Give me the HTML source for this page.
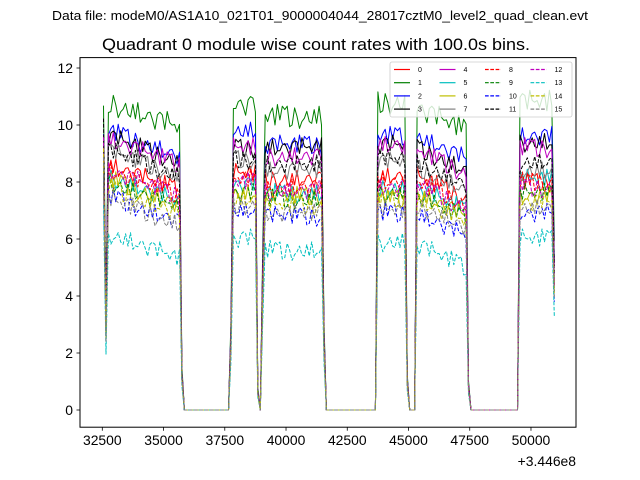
<!DOCTYPE html>
<html><head><meta charset="utf-8"><style>
html,body{margin:0;padding:0;background:#fff}
svg{display:block;font-family:"Liberation Sans",sans-serif}
</style></head><body>
<svg id="chart" width="640" height="480" viewBox="0 0 640 480">
<rect x="0" y="0" width="640" height="480" fill="#fff"/>
<text x="320" y="20" font-size="12.5" text-anchor="middle" textLength="536" lengthAdjust="spacingAndGlyphs">Data file: modeM0/AS1A10_021T01_9000004044_28017cztM0_level2_quad_clean.evt</text>
<text x="316" y="50" font-size="16.5" text-anchor="middle" textLength="428" lengthAdjust="spacingAndGlyphs">Quadrant 0 module wise count rates with 100.0s bins.</text>
<g id="plot"></g>
<rect x="80" y="57.6" width="496" height="369.6" fill="none" stroke="#000" stroke-width="1"/>
<g id="xticks"></g>
<g id="yticks"></g>
<text x="576" y="466" font-size="13.9" text-anchor="end">+3.446e8</text>
<g id="legend"></g>
</svg>
<script>
// ---- data ----
const t0 = 32550, binSize = 100, nBins = 185;
const seriesNames = ["0","1","2","3","4","5","6","7","8","9","10","11","12","13","14","15"];
// on-segment levels per series: [A, B, C, D, E, F]
const lv0  = [8.0, 8.3, 8.1, 8.2, 7.9, 8.0];
const lv1  = [10.2, 10.7, 10.3, 10.8, 10.3, 10.8];
const lv2  = [9.2, 9.8, 9.3, 9.6, 9.3, 9.6];
const lv3  = [9.0, 9.2, 9.2, 9.3, 8.9, 9.4];
const lv4  = [8.9, 9.2, 8.9, 9.3, 8.8, 9.2];
const lv5  = [7.6, 7.9, 7.6, 7.8, 7.5, 8.1];
const lv6  = [7.5, 7.6, 7.5, 7.4, 7.3, 7.5];
const lv7  = [8.5, 8.8, 8.4, 8.7, 8.2, 8.4];
const lv8  = [7.8, 8.1, 7.8, 8.0, 7.7, 8.0];
const lv9  = [7.4, 7.6, 7.4, 7.6, 7.2, 7.6];
const lv10 = [6.9, 7.0, 6.8, 6.9, 6.6, 6.9];
const lv11 = [8.5, 8.8, 8.6, 8.8, 8.4, 8.7];
const lv12 = [7.8, 8.0, 7.7, 7.8, 7.6, 7.8];
const lv13 = [5.6, 6.0, 5.6, 5.9, 5.5, 6.0];
const lv14 = [7.2, 7.4, 7.2, 7.4, 7.1, 7.3];
const lv15 = [6.8, 7.2, 6.9, 7.0, 6.9, 7.1];
const levels = [lv0,lv1,lv2,lv3,lv4,lv5,lv6,lv7,lv8,lv9,lv10,lv11,lv12,lv13,lv14,lv15];
// on-segments: start time, end time (bin centres)
const segStart = [32750, 37850, 39150, 43750, 45350, 49550];
const segEnd   = [35650, 38750, 41450, 44850, 47350, 50950];
// edge samples (time, fraction of level)
const edgeTimes = [32550, 32650, 35750, 37750, 38850, 38950, 39050, 41550, 43650, 44950, 45250, 47450, 49450];
const edgeFrac  = [1.15, 0.35, 0.15, 0.3, 0.08, 0.0, 0.55, 0.3, 0.0, 0.12, 0.0, 0.1, 0.0];
// hand-read wiggle table
const wiggle = [0.3,-0.4,0.5,-0.1,0.6,-0.5,0.2,-0.3,0.7,0.0,-0.6,0.4,-0.2,0.5,-0.4,0.1,-0.7,0.3,0.6,-0.2,-0.5,0.4,0.0,-0.3,0.5,-0.6,0.2,0.7,-0.4,0.1,-0.1,0.4,-0.5,0.3,-0.2,0.6,-0.3];
const xTicks = [32500,35000,37500,40000,42500,45000,47500,50000];
const yTicks = [0,2,4,6,8,10,12];
const colors = ["#ff0000","#008000","#0000ff","#000000","#bf00bf","#00bfbf","#bfbf00","#808080","#ff0000","#008000","#0000ff","#000000","#bf00bf","#00bfbf","#bfbf00","#808080"];

// ---- axes ----
const X = v => 102.3 + (v - 32500) * 61.24 / 2500;
const Y = v => 410 - v * 28.5;
const NS = "http://www.w3.org/2000/svg";
function mk(tag, attrs, parent){ const e=document.createElementNS(NS,tag); for(const k in attrs) e.setAttribute(k,attrs[k]); parent.appendChild(e); return e; }

function valueAt(s, i){
  const t = t0 + i*binSize;
  const ei = edgeTimes.indexOf(t);
  for (let k=0;k<segStart.length;k++){
    if (t>=segStart[k] && t<=segEnd[k]){
      const lv = levels[s][k];
      let trend = 0;
      if (k===0) trend = 0.6 - 0.9*(t-segStart[k])/(segEnd[k]-segStart[k]);
      if (k===4) trend = 0.3 - 0.8*(t-segStart[k])/(segEnd[k]-segStart[k]);
      if (k===5 && t===segEnd[k]) return lv*0.55;
      return lv + trend + wiggle[(i*7 + s*11) % wiggle.length]*(s===1?0.6:0.5);
    }
  }
  if (ei>=0) return levels[s][0]*edgeFrac[ei] + (ei===0 ? (s-8)*0.15 : 0);
  return 0;
}

const plot = document.getElementById('plot');
for (let s=0;s<16;s++){
  let d="";
  for (let i=0;i<nBins;i++){
    const x = X(t0+i*binSize), y = Y(valueAt(s,i));
    d += (i?"L":"M")+x.toFixed(1)+","+y.toFixed(1);
  }
  const p = mk('path',{d:d,fill:"none",stroke:colors[s],"stroke-width":1,"stroke-linejoin":"round"},plot);
  if (s>=8) p.setAttribute('stroke-dasharray','3.7,1.6');
  
  
}

const xg = document.getElementById('xticks');
xTicks.forEach(v=>{
  const x = X(v);
  const l = mk('line',{x1:x,x2:x,y1:427.2,y2:430.7,stroke:"#000","stroke-width":0.8},xg);
  
  
  const t = mk('text',{x:x,y:445,"font-size":13.9,"text-anchor":"middle"},xg);
  t.textContent = v;
  
  
});
const yg = document.getElementById('yticks');
yTicks.forEach(v=>{
  const y = Y(v);
  const l = mk('line',{x1:76.5,x2:80,y1:y,y2:y,stroke:"#000","stroke-width":0.8},yg);
  
  
  const t = mk('text',{x:73,y:y+5,"font-size":13.9,"text-anchor":"end"},yg);
  t.textContent = v;
  
  
});

const lg = document.getElementById('legend');
const box = mk('rect',{x:390,y:62,width:182,height:55,rx:2,fill:"#fff","fill-opacity":0.8,stroke:"#ccc","stroke-width":0.8},lg);


for (let s=0;s<16;s++){
  const col = Math.floor(s/4), row = s%4;
  const x = 394 + col*45.5, y = 69.5 + row*13.2;
  const l = mk('line',{x1:x,x2:x+16,y1:y,y2:y,stroke:colors[s],"stroke-width":1.2},lg);
  if (s>=8) l.setAttribute('stroke-dasharray','3.7,1.6');
  
  
  const t = mk('text',{x:x+24,y:y+2.5,"font-size":7},lg);
  t.textContent = seriesNames[s];
  
  
}
</script>
</body></html>
